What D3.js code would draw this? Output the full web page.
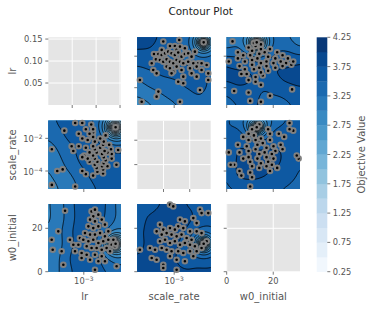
<!DOCTYPE html>
<html><head><meta charset="utf-8">
<script src="https://cdn.jsdelivr.net/npm/d3@7"></script>
<style>body{margin:0;background:#fff}svg{display:block}text{font-family:"DejaVu Sans",sans-serif}</style>
</head><body><script>
// ---------------- data ----------------
const paramNames = ["lr", "scale_rate", "w0_initial"];
const levels = [0.25,0.5,0.75,1.0,1.25,1.5,1.75,2.0,2.25,2.5,2.75,3.0,3.25,3.5,3.75,4.0,4.25];
const cbTicks = [0.25,0.75,1.25,1.75,2.25,2.75,3.25,3.75,4.25];
const bluesAnchors = ["#f7fbff","#deebf7","#c6dbef","#9ecae1","#6baed6","#4292c6","#2171b5","#08519c","#08306b"];

// trial coordinates (log10 for lr and scale_rate, linear for w0_initial)
const pairSrLr = [[-3.62,-1.07],[-3.24,-1.35],[-2.96,-1.35],[-2.71,-0.97],[-2.39,-1.5],[-3.71,-1.6],[-2.86,-1.6],[-2.67,-1.39],
 [-4.15,-1.86],[-3.9,-1.86],[-3.71,-1.92],[-3.52,-1.82],[-3.34,-1.71],[-3.15,-1.82],[-2.96,-1.92],[-2.77,-1.77],[-2.58,-2.03],
 [-2.39,-1.86],[-2.2,-1.82],[-2.01,-2.03],[-1.82,-1.71],[-4.04,-2.2],[-3.81,-2.24],[-3.62,-2.35],[-3.43,-2.2],[-3.24,-2.35],
 [-3.05,-2.45],[-2.86,-2.24],[-2.67,-2.35],[-2.48,-2.45],[-2.2,-2.35],[-1.91,-2.45],[-1.63,-2.45],[-1.44,-2.45],[-1.15,-2.56],
 [-4.28,-2.45],[-4.19,-2.88],[-3.43,-2.66],[-3.24,-2.77],[-3.05,-2.98],[-2.86,-2.66],[-2.58,-2.88],[-2.1,-2.77],[-1.72,-2.66],
 [-1.44,-2.88],[-1.06,-3.09],[-4.0,-3.09],[-3.15,-3.09],[-2.48,-3.3],[-2.01,-3.09],[-1.72,-3.3],[-1.06,-3.51],[-2.77,-3.62],
 [-4.95,-3.51],[-2.48,-3.72],[-1.53,-4.15],[-3.9,-4.25],[-4.0,-4.57],[-2.67,-4.89],[-4.85,-4.89]];
const pairLrW0 = [[-4.11,28.1],[-2.54,27.8],[-2.34,28.6],[-2.44,25.5],[-2.14,26.3],[-2.63,24.0],[-2.34,23.2],[-1.94,24.0],
 [-2.73,20.9],[-2.44,20.1],[-2.14,20.9],[-1.75,21.7],[-1.55,18.6],[-4.51,18.6],[-2.93,17.8],[-2.63,17.1],[-2.34,17.1],
 [-2.04,17.8],[-1.75,16.3],[-3.23,15.5],[-3.03,14.7],[-2.73,14.0],[-2.44,14.7],[-2.14,13.2],[-1.85,14.0],[-1.55,14.7],
 [-1.35,12.4],[-4.9,14.7],[-3.82,14.7],[-3.62,12.4],[-3.32,12.4],[-2.83,11.7],[-2.54,10.9],[-2.24,10.9],[-1.94,10.1],
 [-1.65,10.9],[-1.45,9.4],[-4.84,10.1],[-4.31,9.4],[-3.52,9.4],[-3.13,8.6],[-2.83,7.8],[-2.34,7.8],[-1.94,7.1],[-2.14,4.8],
 [-4.21,3.2],[-2.34,0.9],[-1.06,2.5],[-3.13,6.3],[-2.63,5.5],[-1.75,4.8],[-1.25,14.7],[-1.16,11.7]];
const pairSrW0 = [[-3.24,30.9],[-3.05,30.1],[-1.53,28.6],[-1.44,27.0],[-1.06,27.0],[-2.67,24.0],[-2.39,23.2],[-1.91,24.7],
 [-1.72,22.4],[-2.77,20.9],[-3.81,21.7],[-3.62,19.4],[-3.24,20.1],[-2.96,19.4],[-2.48,20.1],[-2.1,18.6],[-1.72,18.6],
 [-1.44,17.8],[-4.0,18.6],[-3.71,17.1],[-3.43,17.8],[-3.15,17.1],[-2.86,16.3],[-2.58,17.1],[-2.29,15.5],[-2.01,14.7],
 [-3.81,14.0],[-3.52,14.7],[-3.24,13.2],[-2.96,14.0],[-2.67,12.4],[-2.39,13.2],[-2.1,12.4],[-1.82,11.7],[-4.95,10.1],
 [-4.38,10.9],[-4.09,10.1],[-3.71,10.9],[-3.43,10.1],[-3.15,9.4],[-2.77,9.4],[-2.48,8.6],[-2.1,9.4],[-1.91,7.1],[-4.28,6.3],
 [-4.0,5.5],[-3.62,3.2],[-3.24,7.1],[-2.86,5.5],[-2.39,4.8],[-3.62,1.7],[-2.86,0.9],[-1.15,14.0],[-1.44,10.9],[-1.72,9.4]];
// the low-objective trial
const hotTrial = {lr: -1.12, scale_rate: -1.32, w0_initial: 12.9, value: 0.3};

// objective surface (rows top->bottom, cols left->right as displayed)
const field12 = [[3.9,3.85,3.75,3.7,3.6,3.5,3.45],[3.75,3.75,3.7,3.65,3.6,3.55,3.55],[3.55,3.6,3.65,3.65,3.6,3.6,3.6],
 [3.3,3.4,3.5,3.55,3.6,3.6,3.55],[3.1,3.2,3.3,3.4,3.5,3.55,3.5],[2.9,3.0,3.15,3.25,3.35,3.45,3.4]];
const field13 = [[3.1,3.4,3.6,3.5,3.6,3.4,3.1],[3.45,3.6,3.7,3.6,3.7,3.6,3.45],[3.8,3.8,3.85,3.8,3.85,3.8,3.8],
 [3.85,3.9,3.85,3.8,3.8,3.85,3.9],[3.6,3.7,3.7,3.55,3.6,3.65,3.7],[3.45,3.55,3.6,3.45,3.4,3.5,3.6]];
const field21 = [[3.45,3.6,3.75,3.8,3.75,3.6,3.35],[3.35,3.5,3.7,3.8,3.8,3.7,3.55],[3.2,3.35,3.55,3.75,3.8,3.75,3.7],
 [3.1,3.25,3.45,3.65,3.75,3.75,3.75],[3.0,3.15,3.3,3.5,3.65,3.7,3.75],[2.9,3.05,3.2,3.4,3.55,3.65,3.7]];
const field23 = [[3.6,3.6,3.55,3.5,3.55,3.6,3.6],[3.6,3.8,3.85,3.8,3.8,3.7,3.6],[3.6,3.85,3.9,3.9,3.85,3.75,3.55],
 [3.6,3.85,3.9,3.9,3.85,3.7,3.55],[3.55,3.8,3.85,3.8,3.7,3.6,3.5],[3.5,3.55,3.6,3.6,3.55,3.5,3.45]];
const field31 = [[3.0,3.2,3.5,3.7,3.7,3.5,3.2],[3.0,3.2,3.5,3.75,3.75,3.55,3.3],[3.05,3.25,3.55,3.8,3.8,3.6,3.4],
 [3.05,3.25,3.55,3.8,3.8,3.6,3.4],[3.1,3.3,3.6,3.75,3.75,3.6,3.45],[3.1,3.3,3.55,3.7,3.7,3.6,3.5]];
const field32 = [[3.6,3.65,3.8,3.9,3.8,3.75,3.7],[3.65,3.8,3.9,3.95,3.9,3.8,3.7],[3.7,3.85,3.95,3.95,3.9,3.8,3.75],
 [3.7,3.85,3.95,3.9,3.85,3.8,3.75],[3.8,3.85,3.9,3.85,3.8,3.85,3.85],[3.85,3.9,3.9,3.85,3.85,3.9,3.9]];

// axes
const offDiagAxes = {
  lr:         {x: {domain: [-5.1, -0.8], ticks: [-3]}, y: {domain: [-5.1, -0.8], ticks: [-4, -2]}, log: true},
  scale_rate: {x: {domain: [-5.1, -0.92], ticks: [-3]}, y: {domain: [-5.1, -0.92], ticks: [-4, -2]}, log: true},
  w0_initial: {x: {domain: [0, 31.5], ticks: [0, 20]}, y: {domain: [0, 31.2], ticks: [0, 20]}, log: false}
};
const diagAxes = [
  {x: {domain: [0, 0.152], ticks: [0.05, 0.10, 0.15]}, y: {domain: [0, 0.154], ticks: [0.05, 0.10, 0.15]}, log: false, fmt: d => d.toFixed(2)},
  {x: {domain: [-4, -1.2], ticks: [-3, -2]}, y: {domain: [-4, -1.2], ticks: [-3, -2]}, log: true},
  {x: {domain: [0, 31.5], ticks: [0, 20]}, y: {domain: [0, 31.2], ticks: [0, 20]}, log: false, fmt: d => String(d)}
];

// ---------------- layout / style ----------------
const W = 374, H = 309;
const colPx = [[48.3, 121], [137.3, 210.7], [226.7, 300]];
const rowPx = [[37.3, 105], [120.7, 189], [204, 271.7]];
const hotRadius = {"01": 5, "02": 6, "10": 7, "12": 5, "20": 6, "21": 5};
const tickColor = "#555555", fsTick = 8.3, fsLabel = 10, tickLen = 3;

const svg = d3.select("body").append("svg").attr("width", W).attr("height", H);
const defs = svg.append("defs");
const blues = d3.scaleLinear().domain(d3.range(9).map(i => i / 8)).range(bluesAnchors).interpolate(d3.interpolateRgb);
const nb = levels.length - 1;
const bandColor = i => blues((i + 0.5) / nb);

const fields = {"01": field12, "02": field13, "10": field21, "12": field23, "20": field31, "21": field32};
const pairs = {"scale_rate|lr": pairSrLr, "lr|w0_initial": pairLrW0, "scale_rate|w0_initial": pairSrW0};
function getPoints(xp, yp) {
  if (pairs[xp + "|" + yp]) return pairs[xp + "|" + yp].map(d => ({x: d[0], y: d[1]}));
  return pairs[yp + "|" + xp].map(d => ({x: d[1], y: d[0]}));
}

function cr(t) { // Catmull-Rom weights
  const t2 = t * t, t3 = t2 * t;
  return [(-t3 + 2 * t2 - t) / 2, (3 * t3 - 5 * t2 + 2) / 2, (-3 * t3 + 4 * t2 + t) / 2, (t3 - t2) / 2];
}
function sampleGrid(g, u, v) {
  const rows = g.length, cols = g[0].length;
  const gx = Math.max(0, Math.min(1, u)) * (cols - 1), gy = Math.max(0, Math.min(1, v)) * (rows - 1);
  let i = Math.min(Math.floor(gx), cols - 2), j = Math.min(Math.floor(gy), rows - 2);
  const wx = cr(gx - i), wy = cr(gy - j);
  let s = 0;
  for (let n = -1; n <= 2; n++) {
    const jj = Math.max(0, Math.min(rows - 1, j + n));
    for (let m = -1; m <= 2; m++) {
      const ii = Math.max(0, Math.min(cols - 1, i + m));
      s += g[jj][ii] * wx[m + 1] * wy[n + 1];
    }
  }
  return s;
}

function logLabel(g, x, y, e, anchor) {
  const t = g.append("text").attr("x", x).attr("y", y).attr("text-anchor", anchor)
    .attr("font-size", fsTick).attr("fill", tickColor);
  t.append("tspan").text("10");
  t.append("tspan").attr("dy", -3.3).attr("font-size", fsTick * 0.72).text("\u2212" + Math.abs(e));
}

for (let r = 0; r < 3; r++) {
  for (let c = 0; c < 3; c++) {
    const [x0, x1] = colPx[c], [y0, y1] = rowPx[r];
    const xp = paramNames[c], yp = paramNames[r];
    const diag = r === c;
    const ax = diag ? diagAxes[r] : null;
    const xdef = diag ? ax.x : offDiagAxes[xp].x, ydef = diag ? ax.y : offDiagAxes[yp].y;
    const xLog = diag ? ax.log : offDiagAxes[xp].log, yLog = diag ? ax.log : offDiagAxes[yp].log;
    const xs = d3.scaleLinear().domain(xdef.domain).range([x0, x1]);
    const ys = d3.scaleLinear().domain(ydef.domain).range([y1, y0]);
    const g = svg.append("g");
    const id = "clip" + r + c;
    defs.append("clipPath").attr("id", id).append("rect").attr("x", x0).attr("y", y0).attr("width", x1 - x0).attr("height", y1 - y0);

    g.append("rect").attr("x", x0).attr("y", y0).attr("width", x1 - x0).attr("height", y1 - y0).attr("fill", "#E5E5E5");
    const grid = g.append("g").attr("clip-path", `url(#${id})`);
    xdef.ticks.forEach(t => grid.append("line").attr("x1", xs(t)).attr("x2", xs(t)).attr("y1", y0).attr("y2", y1).attr("stroke", "#fff").attr("stroke-width", 1));
    ydef.ticks.forEach(t => grid.append("line").attr("y1", ys(t)).attr("y2", ys(t)).attr("x1", x0).attr("x2", x1).attr("stroke", "#fff").attr("stroke-width", 1));

    if (!diag) {
      const key = "" + r + c;
      const fg = fields[key];
      const m = 2;
      const nx = Math.ceil(x1 - x0) + 2 * m, ny = Math.ceil(y1 - y0) + 2 * m;
      const vals = new Float64Array(nx * ny);
      const hx = xs(hotTrial[xp]), hy = ys(hotTrial[yp]);
      const r2 = hotRadius[key] * hotRadius[key];
      for (let j = 0; j < ny; j++) for (let i = 0; i < nx; i++) {
        const px = x0 - m + i + 0.5, py = y0 - m + j + 0.5;
        const bg = sampleGrid(fg, (px - x0) / (x1 - x0), (py - y0) / (y1 - y0));
        const d2 = (px - hx) ** 2 + (py - hy) ** 2;
        const f = r2 / (r2 + d2);
        vals[j * nx + i] = bg + (hotTrial.value - bg) * f;
      }
      const cs = d3.contours().size([nx, ny]).thresholds(levels)(vals);
      const cg = g.append("g").attr("clip-path", `url(#${id})`).append("g").attr("transform", `translate(${x0 - m},${y0 - m})`);
      const path = d3.geoPath();
      cg.append("rect").attr("x", 0).attr("y", 0).attr("width", nx).attr("height", ny).attr("fill", bandColor(0));
      cs.forEach((cc, k) => { if (k < nb) cg.append("path").attr("d", path(cc)).attr("fill", bandColor(k)); });
      cs.forEach(cc => cg.append("path").attr("d", path(cc)).attr("fill", "none").attr("stroke", "#000").attr("stroke-width", 0.8));

      const pts = getPoints(xp, yp);
      pts.push({x: hotTrial[xp], y: hotTrial[yp]});
      const pg = g.append("g");
      pts.forEach(p => pg.append("circle").attr("cx", xs(p.x)).attr("cy", ys(p.y)).attr("r", 2.3)
        .attr("fill", "#000").attr("stroke", "grey").attr("stroke-width", 2));
    }

    // ticks
    xdef.ticks.forEach(t => g.append("line").attr("x1", xs(t)).attr("x2", xs(t)).attr("y1", y1).attr("y2", y1 + tickLen).attr("stroke", tickColor).attr("stroke-width", 0.8));
    ydef.ticks.forEach(t => g.append("line").attr("y1", ys(t)).attr("y2", ys(t)).attr("x1", x0 - tickLen).attr("x2", x0).attr("stroke", tickColor).attr("stroke-width", 0.8));
    if (r === 2) {
      xdef.ticks.forEach(t => {
        if (xLog) logLabel(g, xs(t), y1 + 12.5, t, "middle");
        else g.append("text").attr("x", xs(t)).attr("y", y1 + 12.5).attr("text-anchor", "middle").attr("font-size", fsTick).attr("fill", tickColor).text(ax ? ax.fmt(t) : String(t));
      });
      g.append("text").attr("x", (x0 + x1) / 2).attr("y", 299.5).attr("text-anchor", "middle").attr("font-size", fsLabel).attr("fill", tickColor).text(xp);
    }
    if (c === 0) {
      ydef.ticks.forEach(t => {
        if (yLog) logLabel(g, x0 - 5.8, ys(t) + 4, t, "end");
        else g.append("text").attr("x", x0 - 5.8).attr("y", ys(t) + 3).attr("text-anchor", "end").attr("font-size", fsTick).attr("fill", tickColor).text(ax ? ax.fmt(t) : String(t));
      });
      const cy = (y0 + y1) / 2;
      g.append("text").attr("transform", `translate(15.5,${cy}) rotate(-90)`).attr("text-anchor", "middle").attr("font-size", fsLabel).attr("fill", tickColor).text(yp);
    }
  }
}

// colorbar
const cbX0 = 316.7, cbX1 = 327.3, cbY0 = 37.3, cbY1 = 271.7;
const cbs = d3.scaleLinear().domain([levels[0], levels[nb]]).range([cbY1, cbY0]);
const cb = svg.append("g");
for (let k = 0; k < nb; k++) {
  cb.append("rect").attr("x", cbX0).attr("width", cbX1 - cbX0).attr("y", cbs(levels[k + 1])).attr("height", cbs(levels[k]) - cbs(levels[k + 1]) + 0.3).attr("fill", bandColor(k));
}
cbTicks.forEach(t => {
  cb.append("line").attr("x1", cbX1).attr("x2", cbX1 + tickLen).attr("y1", cbs(t)).attr("y2", cbs(t)).attr("stroke", tickColor).attr("stroke-width", 0.8);
  cb.append("text").attr("x", cbX1 + 5.5).attr("y", cbs(t) + 3).attr("font-size", fsTick).attr("fill", tickColor).text(t.toFixed(2));
});
cb.append("text").attr("transform", `translate(365,${(cbY0 + cbY1) / 2}) rotate(-90)`).attr("text-anchor", "middle").attr("font-size", fsLabel).attr("fill", tickColor).text("Objective Value");

svg.append("text").attr("x", 200.7).attr("y", 14.5).attr("text-anchor", "middle").attr("font-size", 10.4).attr("fill", "#222").text("Contour Plot");
</script></body></html>
